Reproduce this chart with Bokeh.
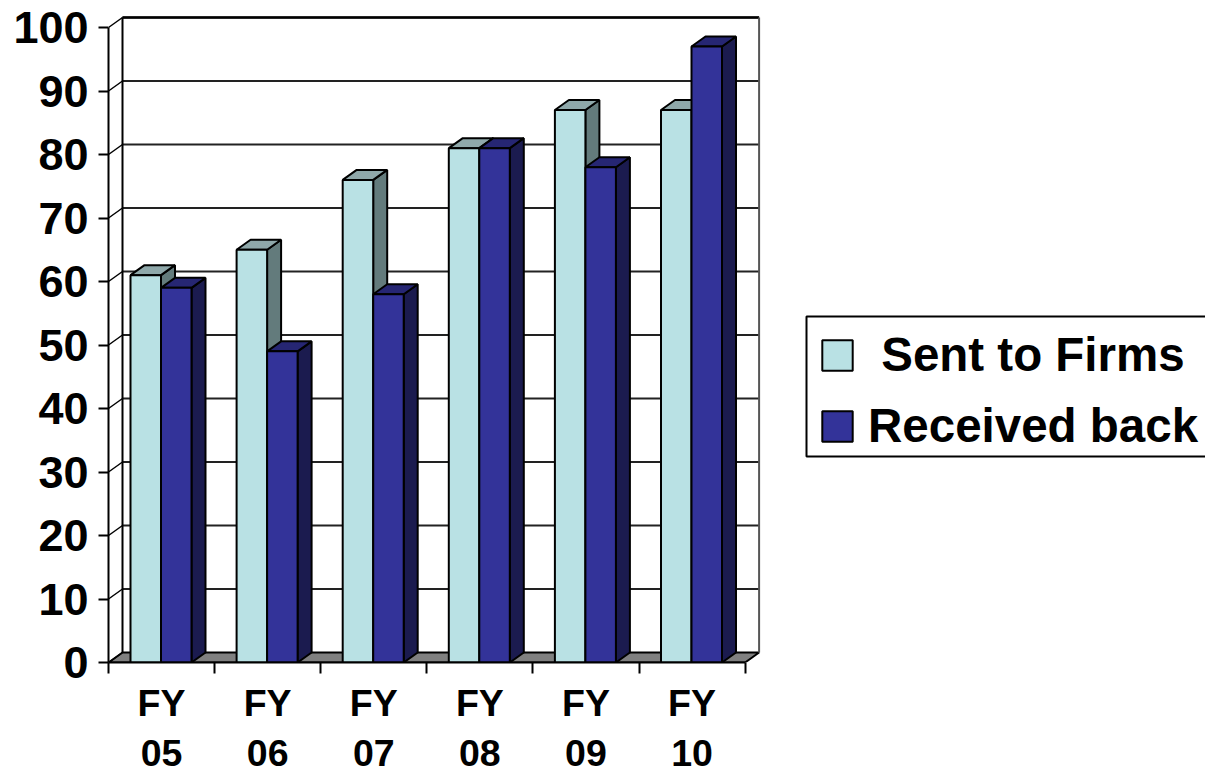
from bokeh.plotting import figure
from bokeh.models import Range1d, FixedTicker, Legend, LegendItem, BoxAnnotation
from bokeh.embed import file_html
from bokeh.resources import INLINE

categories = ["FY\n05", "FY\n06", "FY\n07", "FY\n08", "FY\n09", "FY\n10"]
sent_to_firms = [61, 65, 76, 81, 87, 87]
received_back = [59, 49, 58, 81, 78, 97]
y_ticks = [0, 10, 20, 30, 40, 50, 60, 70, 80, 90, 100]

FONT = "Liberation Sans"
PX_X = 106.1
PX_Y = 6.35
DX = 14 / PX_X      # 3D depth in data units
DY = 10 / PX_Y
OFFSET = 22 / PX_X
BAR_W = 30.5 / PX_X
n = len(categories)

p = figure(width=1213, height=790, output_backend="svg", toolbar_location=None,
           x_range=Range1d(0, 1097 / PX_X), y_range=Range1d(0, 662 / PX_Y),
           min_border_left=116, min_border_right=0, min_border_top=8, min_border_bottom=120,
           outline_line_color=None, background_fill_color="white", border_fill_color="white",
           margin=(-8, -8, -18, -8))
p.grid.visible = False

# walls and floor
p.patch([0, n, n + DX, DX], [0, 0, DY, DY], fill_color="#808080", line_color="black", line_width=2)
p.multi_line([[DX, DX + n] for _ in y_ticks[1:]], [[t + DY, t + DY] for t in y_ticks[1:]],
             line_color="#222222", line_width=2)
p.multi_line([[0, DX] for _ in y_ticks], [[t, t + DY] for t in y_ticks], line_color="black", line_width=1.5)
p.line([DX, DX], [DY, 100 + DY], line_color="black", line_width=2)
p.line([DX, DX + n], [100 + DY, 100 + DY], line_color="black", line_width=2.5)
p.line([DX + n, DX + n], [DY, 100 + DY], line_color="#555555", line_width=2)


def bars(values, shift, front, top, side):
    x0 = [i + OFFSET + shift * BAR_W for i in range(n)]
    x1 = [x + BAR_W for x in x0]
    p.patches([[a, a + DX, a + DX, a] for a in x1],
              [[0, DY, v + DY, v] for v in values],
              fill_color=side, line_color="black", line_width=2)
    p.patches([[a, b, b + DX, a + DX] for a, b in zip(x0, x1)],
              [[v, v, v + DY, v + DY] for v in values],
              fill_color=top, line_color="black", line_width=2)
    return p.quad(left=x0, right=x1, bottom=[0] * n, top=values,
                  fill_color=front, line_color="black", line_width=2)


r_sent = bars(sent_to_firms, 0, "#B9E1E4", "#8FA8AA", "#637B7C")
r_recv = bars(received_back, 1, "#333399", "#262673", "#1B1B4F")

# axes
xa = p.xaxis[0]
xa.bounds = (0, n)
xa.ticker = FixedTicker(ticks=[i + 0.5 for i in range(n)], minor_ticks=list(range(n + 1)))
xa.major_label_overrides = {i + 0.5: c for i, c in enumerate(categories)}
xa.major_tick_line_color = None
xa.minor_tick_out = 11
xa.minor_tick_in = 0
xa.minor_tick_line_color = "black"
xa.minor_tick_line_width = 2
xa.axis_line_color = "black"
xa.axis_line_width = 2
xa.major_label_text_font = FONT
xa.major_label_text_font_style = "bold"
xa.major_label_text_font_size = "37.5px"
xa.major_label_text_color = "black"
xa.major_label_standoff = 8
xa.major_label_orientation = "horizontal"

ya = p.yaxis[0]
ya.bounds = (0, 100)
ya.ticker = FixedTicker(ticks=y_ticks)
ya.major_tick_out = 10
ya.major_tick_in = 0
ya.major_tick_line_color = "black"
ya.major_tick_line_width = 2
ya.minor_tick_line_color = None
ya.axis_line_color = "black"
ya.axis_line_width = 2
ya.major_label_text_font = FONT
ya.major_label_text_font_style = "bold"
ya.major_label_text_font_size = "45px"
ya.major_label_text_color = "black"
ya.major_label_standoff = 10

p.add_layout(BoxAnnotation(left=814, right=1240, top=324, bottom=464,
                           left_units="canvas", right_units="canvas",
                           top_units="canvas", bottom_units="canvas",
                           fill_color="white", fill_alpha=1,
                           line_color="black", line_width=2, line_alpha=1))

legend = Legend(items=[LegendItem(label="\u00a0Sent to Firms", renderers=[r_sent]),
                       LegendItem(label="Received back", renderers=[r_recv])],
                location=(710, 209), orientation="vertical",
                glyph_width=38, glyph_height=38, label_standoff=12, padding=0, margin=0,
                spacing=16, label_text_font=FONT, label_text_font_style="bold",
                label_text_font_size="47.5px", label_text_color="black",
                border_line_color=None, background_fill_alpha=0)
p.add_layout(legend)

open("out.html", "w").write(file_html(p, INLINE))
